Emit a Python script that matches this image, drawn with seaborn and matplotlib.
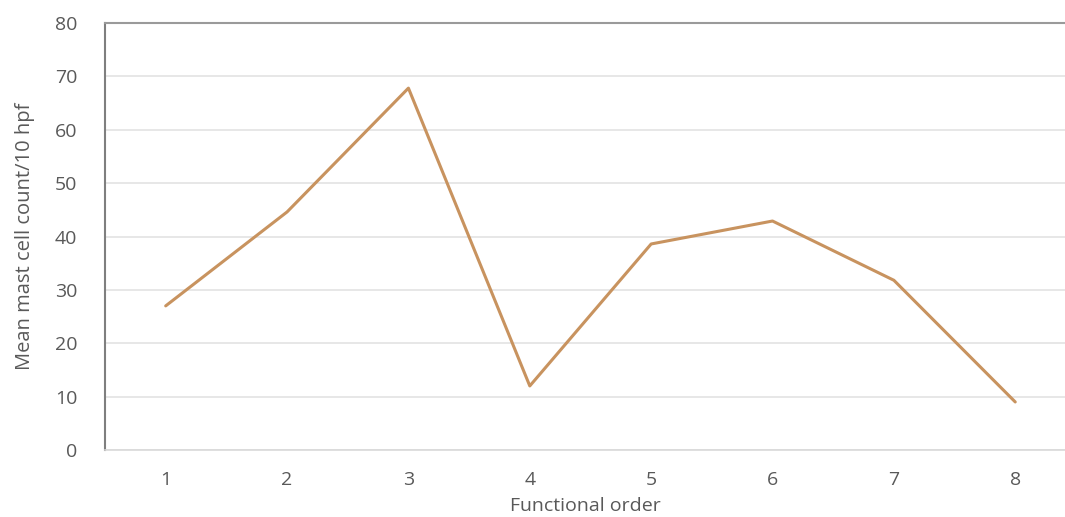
import matplotlib
matplotlib.use('Agg')
import matplotlib.pyplot as plt
import seaborn as sns
import pandas as pd

order = [1, 2, 3, 4, 5, 6, 7, 8]
mast_count = [27, 44.6, 67.8, 12, 38.6, 42.9, 31.8, 9]
yticks = [0, 10, 20, 30, 40, 50, 60, 70, 80]

df = pd.DataFrame({'order': order, 'count': mast_count})

sns.set_style('white')
plt.rcParams['font.family'] = ['Open Sans', 'DejaVu Sans']

fig = plt.figure(figsize=(10.65, 5.17), dpi=100)
ax = fig.add_axes([0.0986, 0.1296, 0.9014, 0.8259])

sns.lineplot(data=df, x='order', y='count', ax=ax, color='#C8935F', linewidth=2.2)

ax.set_xlim(0.5, 8.41)
ax.set_ylim(0, 80)
ax.set_xticks(order)
ax.set_yticks(yticks)
ax.yaxis.grid(True, color='#E3E3E3', linewidth=1.2)
ax.set_axisbelow(True)
ax.tick_params(axis='both', length=0, labelsize=14, colors='#595959')
ax.tick_params(axis='x', pad=15)
ax.tick_params(axis='y', pad=20)

ax.spines['right'].set_visible(False)
ax.spines['left'].set_color('#7F7F7F')
ax.spines['left'].set_linewidth(1.5)
ax.spines['top'].set_color('#9A9A9A')
ax.spines['top'].set_linewidth(1.5)
ax.spines['bottom'].set_color('#D9D9D9')
ax.spines['bottom'].set_linewidth(1.2)

ax.set_xlabel('Functional order', fontsize=14, color='#595959', labelpad=6)
ax.set_ylabel('Mean mast cell count/10 hpf', fontsize=14.5, color='#595959',
              family=['Liberation Sans Narrow', 'Open Sans', 'DejaVu Sans'], labelpad=14)

fig.savefig('out.png', dpi=100)
